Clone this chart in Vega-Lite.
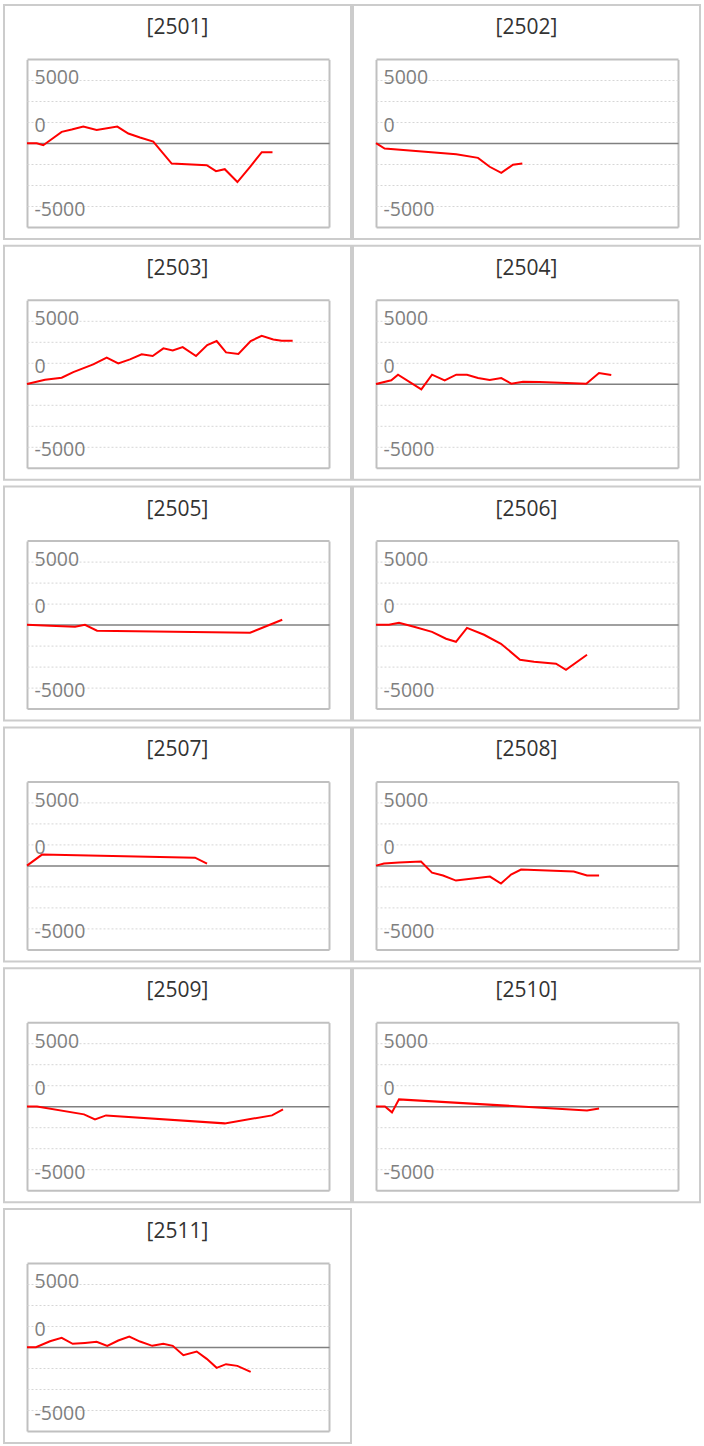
{
  "$schema": "https://vega.github.io/schema/vega-lite/v6.json",
  "padding": {"left": 3, "top": 4, "right": 0, "bottom": 0},
  "background": "white",
  "data": {"values": [
    {"panel": "[2501]", "day": 0, "value": 0},
    {"panel": "[2501]", "day": 1.0, "value": 0},
    {"panel": "[2501]", "day": 1.67, "value": -190},
    {"panel": "[2501]", "day": 3.56, "value": 1080},
    {"panel": "[2501]", "day": 4.59, "value": 1300},
    {"panel": "[2501]", "day": 5.78, "value": 1590},
    {"panel": "[2501]", "day": 7.15, "value": 1270},
    {"panel": "[2501]", "day": 9.27, "value": 1590},
    {"panel": "[2501]", "day": 10.4, "value": 920},
    {"panel": "[2501]", "day": 11.6, "value": 540},
    {"panel": "[2501]", "day": 12.96, "value": 160},
    {"panel": "[2501]", "day": 14.85, "value": -1940},
    {"panel": "[2501]", "day": 18.45, "value": -2100},
    {"panel": "[2501]", "day": 19.4, "value": -2670},
    {"panel": "[2501]", "day": 20.3, "value": -2480},
    {"panel": "[2501]", "day": 21.6, "value": -3710},
    {"panel": "[2501]", "day": 22.9, "value": -2250},
    {"panel": "[2501]", "day": 24.1, "value": -860},
    {"panel": "[2501]", "day": 25.2, "value": -860},

    {"panel": "[2502]", "day": 0, "value": 0},
    {"panel": "[2502]", "day": 0.89, "value": -510},
    {"panel": "[2502]", "day": 8.24, "value": -1050},
    {"panel": "[2502]", "day": 10.47, "value": -1400},
    {"panel": "[2502]", "day": 11.67, "value": -2250},
    {"panel": "[2502]", "day": 12.86, "value": -2830},
    {"panel": "[2502]", "day": 14.06, "value": -2060},
    {"panel": "[2502]", "day": 15.02, "value": -1940},

    {"panel": "[2503]", "day": 0, "value": 0},
    {"panel": "[2503]", "day": 1.85, "value": 410},
    {"panel": "[2503]", "day": 3.56, "value": 600},
    {"panel": "[2503]", "day": 4.75, "value": 1140},
    {"panel": "[2503]", "day": 6.8, "value": 1870},
    {"panel": "[2503]", "day": 8.18, "value": 2510},
    {"panel": "[2503]", "day": 9.37, "value": 1970},
    {"panel": "[2503]", "day": 10.57, "value": 2350},
    {"panel": "[2503]", "day": 11.77, "value": 2830},
    {"panel": "[2503]", "day": 12.9, "value": 2670},
    {"panel": "[2503]", "day": 14.0, "value": 3400},
    {"panel": "[2503]", "day": 14.96, "value": 3210},
    {"panel": "[2503]", "day": 15.98, "value": 3520},
    {"panel": "[2503]", "day": 17.35, "value": 2670},
    {"panel": "[2503]", "day": 18.5, "value": 3710},
    {"panel": "[2503]", "day": 19.47, "value": 4100},
    {"panel": "[2503]", "day": 20.43, "value": 3020},
    {"panel": "[2503]", "day": 21.7, "value": 2860},
    {"panel": "[2503]", "day": 22.96, "value": 4100},
    {"panel": "[2503]", "day": 24.09, "value": 4600},
    {"panel": "[2503]", "day": 25.28, "value": 4250},
    {"panel": "[2503]", "day": 26.14, "value": 4130},
    {"panel": "[2503]", "day": 27.27, "value": 4130},

    {"panel": "[2504]", "day": 0, "value": 0},
    {"panel": "[2504]", "day": 1.57, "value": 350},
    {"panel": "[2504]", "day": 2.26, "value": 890},
    {"panel": "[2504]", "day": 4.65, "value": -510},
    {"panel": "[2504]", "day": 5.75, "value": 890},
    {"panel": "[2504]", "day": 7.05, "value": 350},
    {"panel": "[2504]", "day": 8.24, "value": 890},
    {"panel": "[2504]", "day": 9.34, "value": 890},
    {"panel": "[2504]", "day": 10.47, "value": 570},
    {"panel": "[2504]", "day": 11.67, "value": 380},
    {"panel": "[2504]", "day": 12.86, "value": 570},
    {"panel": "[2504]", "day": 13.89, "value": 30},
    {"panel": "[2504]", "day": 15.09, "value": 220},
    {"panel": "[2504]", "day": 16.8, "value": 190},
    {"panel": "[2504]", "day": 21.59, "value": 30},
    {"panel": "[2504]", "day": 22.89, "value": 1050},
    {"panel": "[2504]", "day": 24.15, "value": 860},

    {"panel": "[2505]", "day": 0, "value": 0},
    {"panel": "[2505]", "day": 2.36, "value": -95},
    {"panel": "[2505]", "day": 4.93, "value": -190},
    {"panel": "[2505]", "day": 5.95, "value": 0},
    {"panel": "[2505]", "day": 7.19, "value": -570},
    {"panel": "[2505]", "day": 22.9, "value": -760},
    {"panel": "[2505]", "day": 26.2, "value": 480},

    {"panel": "[2506]", "day": 0, "value": 0},
    {"panel": "[2506]", "day": 1.33, "value": 0},
    {"panel": "[2506]", "day": 2.36, "value": 190},
    {"panel": "[2506]", "day": 3.9, "value": -190},
    {"panel": "[2506]", "day": 5.75, "value": -670},
    {"panel": "[2506]", "day": 7.19, "value": -1330},
    {"panel": "[2506]", "day": 8.21, "value": -1620},
    {"panel": "[2506]", "day": 9.34, "value": -290},
    {"panel": "[2506]", "day": 11.09, "value": -950},
    {"panel": "[2506]", "day": 12.83, "value": -1810},
    {"panel": "[2506]", "day": 14.78, "value": -3330},
    {"panel": "[2506]", "day": 16.22, "value": -3520},
    {"panel": "[2506]", "day": 18.48, "value": -3710},
    {"panel": "[2506]", "day": 19.5, "value": -4290},
    {"panel": "[2506]", "day": 21.66, "value": -2860},

    {"panel": "[2507]", "day": 0, "value": 0},
    {"panel": "[2507]", "day": 1.54, "value": 1050},
    {"panel": "[2507]", "day": 17.25, "value": 760},
    {"panel": "[2507]", "day": 18.48, "value": 190},

    {"panel": "[2508]", "day": 0, "value": 0},
    {"panel": "[2508]", "day": 0.82, "value": 190},
    {"panel": "[2508]", "day": 2.36, "value": 290},
    {"panel": "[2508]", "day": 4.62, "value": 380},
    {"panel": "[2508]", "day": 5.75, "value": -670},
    {"panel": "[2508]", "day": 6.88, "value": -950},
    {"panel": "[2508]", "day": 8.21, "value": -1430},
    {"panel": "[2508]", "day": 11.7, "value": -1050},
    {"panel": "[2508]", "day": 12.83, "value": -1710},
    {"panel": "[2508]", "day": 13.86, "value": -860},
    {"panel": "[2508]", "day": 14.89, "value": -380},
    {"panel": "[2508]", "day": 20.3, "value": -570},
    {"panel": "[2508]", "day": 21.66, "value": -950},
    {"panel": "[2508]", "day": 22.9, "value": -950},

    {"panel": "[2509]", "day": 0, "value": 0},
    {"panel": "[2509]", "day": 1.03, "value": 0},
    {"panel": "[2509]", "day": 5.85, "value": -760},
    {"panel": "[2509]", "day": 6.98, "value": -1240},
    {"panel": "[2509]", "day": 8.11, "value": -860},
    {"panel": "[2509]", "day": 20.3, "value": -1620},
    {"panel": "[2509]", "day": 25.15, "value": -860},
    {"panel": "[2509]", "day": 26.28, "value": -290},

    {"panel": "[2510]", "day": 0, "value": 0},
    {"panel": "[2510]", "day": 0.92, "value": 0},
    {"panel": "[2510]", "day": 1.64, "value": -570},
    {"panel": "[2510]", "day": 2.36, "value": 670},
    {"panel": "[2510]", "day": 21.66, "value": -380},
    {"panel": "[2510]", "day": 22.9, "value": -190},

    {"panel": "[2511]", "day": 0, "value": 0},
    {"panel": "[2511]", "day": 0.92, "value": 0},
    {"panel": "[2511]", "day": 2.36, "value": 570},
    {"panel": "[2511]", "day": 3.56, "value": 890},
    {"panel": "[2511]", "day": 4.69, "value": 320},
    {"panel": "[2511]", "day": 5.95, "value": 410},
    {"panel": "[2511]", "day": 7.15, "value": 510},
    {"panel": "[2511]", "day": 8.24, "value": 130},
    {"panel": "[2511]", "day": 9.37, "value": 640},
    {"panel": "[2511]", "day": 10.5, "value": 1020},
    {"panel": "[2511]", "day": 11.6, "value": 540},
    {"panel": "[2511]", "day": 12.86, "value": 130},
    {"panel": "[2511]", "day": 13.99, "value": 320},
    {"panel": "[2511]", "day": 14.96, "value": 130},
    {"panel": "[2511]", "day": 16.05, "value": -760},
    {"panel": "[2511]", "day": 17.42, "value": -410},
    {"panel": "[2511]", "day": 18.45, "value": -1110},
    {"panel": "[2511]", "day": 19.47, "value": -1970},
    {"panel": "[2511]", "day": 20.43, "value": -1620},
    {"panel": "[2511]", "day": 21.59, "value": -1780},
    {"panel": "[2511]", "day": 22.96, "value": -2350}
  ]},
  "facet": {
    "field": "panel",
    "type": "nominal",
    "title": null,
    "header": {
      "labelFont": "Open Sans",
      "labelFontSize": 21,
      "labelColor": "#333333",
      "labelPadding": -33
    }
  },
  "columns": 2,
  "spacing": {"row": 3.8, "column": 0},
  "resolve": {"axis": {"y": "independent"}},
  "spec": {
    "width": 347,
    "height": 234,
    "mark": {"type": "line", "color": "#ff0000", "strokeWidth": 2, "clip": false},
    "encoding": {
      "x": {
        "field": "day",
        "type": "quantitative",
        "scale": {"domain": [0, 31], "range": [23, 325], "nice": false, "zero": false},
        "axis": {
          "orient": "top",
          "values": [0, 31],
          "grid": true,
          "gridColor": "#c0c0c0",
          "gridWidth": 2,
          "labels": false,
          "ticks": false,
          "domain": false,
          "title": null
        }
      },
      "y": {
        "field": "value",
        "type": "quantitative",
        "scale": {"domain": [-8000, 8000], "range": [222, 54.4], "nice": false, "zero": false},
        "axis": {
          "title": null,
          "values": [-8000, -6000, -4000, -2000, 0, 2000, 4000, 6000, 8000],
          "labelExpr": "datum.value == 6000 ? '5000' : datum.value == 2000 ? '0' : datum.value == -6000 ? '-5000' : ''",
          "grid": true,
          "gridColor": {"condition": [{"test": "datum.value == 0", "value": "#808080"}, {"test": "abs(datum.value) == 8000", "value": "#c0c0c0"}], "value": "#d6d6d6"},
          "gridDash": {"condition": {"test": "datum.value == 0 || abs(datum.value) == 8000", "value": []}, "value": [2, 2]},
          "gridWidth": {"condition": [{"test": "datum.value == 0", "value": 1.5}, {"test": "abs(datum.value) == 8000", "value": 2}], "value": 1},
          "domain": false,
          "ticks": false,
          "labelAlign": "left",
          "labelBaseline": "alphabetic",
          "labelPadding": -30,
          "labelOverlap": false,
          "labelFont": "Open Sans",
          "labelFontSize": 19.5,
          "labelColor": "#7f7f7f",
          "labelOffset": {"condition": {"test": "datum.value == 6000", "value": 3.5}, "value": 9}
        }
      },
      "order": {"field": "day", "type": "quantitative"}
    }
  },
  "config": {
    "view": {"stroke": "#cccccc", "strokeWidth": 2}
  }
}
